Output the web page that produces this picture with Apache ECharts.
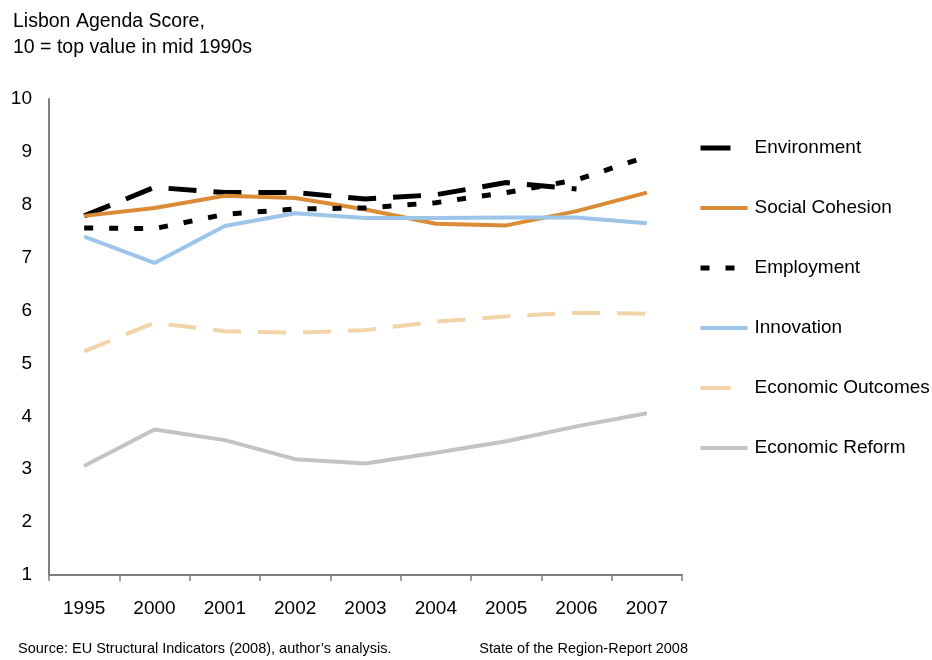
<!DOCTYPE html>
<html>
<head>
<meta charset="utf-8">
<script src="https://cdn.jsdelivr.net/npm/echarts@6/dist/echarts.min.js"></script>
<style>
html,body{margin:0;padding:0;background:#fff;}
#chart{width:932px;height:660px;}
</style>
</head>
<body>
<div id="chart"></div>
<script>
const categories = ['1995','2000','2001','2002','2003','2004','2005','2006','2007'];
const environment = [7.79, 8.33, 8.23, 8.23, 8.11, 8.19, 8.42, 8.30, null];
const socialCohesion = [7.79, 7.94, 8.17, 8.13, 7.91, 7.64, 7.61, 7.88, 8.23];
const employment = [7.56, 7.55, 7.82, 7.92, 7.94, 8.04, 8.23, 8.47, 8.91];
const innovation = [7.40, 6.90, 7.60, 7.84, 7.75, 7.75, 7.76, 7.76, 7.65];
const economicOutcomes = [5.23, 5.77, 5.61, 5.58, 5.63, 5.79, 5.89, 5.96, 5.94];
const economicReform = [3.06, 3.75, 3.55, 3.19, 3.11, 3.31, 3.53, 3.81, 4.06];
const yTicks = [1,2,3,4,5,6,7,8,9,10];

const FONT = '"Liberation Sans", Arial, sans-serif';
const chart = echarts.init(document.getElementById('chart'), null, {renderer:'canvas'});

const C_ENV = '#000000', C_SOC = '#DB8A35', C_EMP = '#000000', C_INN = '#9DC5EA', C_OUT = '#F3D3A8', C_REF = '#C3C3C3';

function mk(name, data, color, width, type) {
  return {
    name, type: 'line', data, symbol: 'none', smooth: false,
    connectNulls: false,
    lineStyle: {color, width, type, cap: 'butt'},
    itemStyle: {color},
    emphasis: {disabled: true},
    animation: false
  };
}

chart.setOption({
  backgroundColor: '#ffffff',
  animation: false,
  title: {
    text: 'Lisbon Agenda Score,\n10 = top value in mid 1990s',
    left: 8, top: 4,
    textStyle: {fontFamily: FONT, fontSize: 19.5, fontWeight: 'normal', color: '#000', lineHeight: 26}
  },
  grid: {left: 49, right: 250, top: 99, bottom: 85, containLabel: false},
  xAxis: {
    type: 'category', data: categories, boundaryGap: true,
    axisLine: {lineStyle: {color: '#7f7f7f', width: 2}},
    axisTick: {show: true, length: 6, lineStyle: {color: '#7f7f7f', width: 1.5}},
    axisLabel: {fontFamily: FONT, fontSize: 19, color: '#000', margin: 24},
    splitLine: {show: false}
  },
  yAxis: {
    type: 'value', min: yTicks[0], max: yTicks[yTicks.length-1], interval: 1,
    axisLine: {show: true, lineStyle: {color: '#7f7f7f', width: 2}},
    axisTick: {show: false},
    axisLabel: {fontFamily: FONT, fontSize: 19, color: '#000', margin: 17},
    splitLine: {show: false}
  },
  legend: {
    orient: 'vertical', left: 698, top: 138,
    itemWidth: 47, itemHeight: 20, itemGap: 40, padding: 0,
    itemStyle: {opacity: 0},
    textStyle: {fontFamily: FONT, fontSize: 19, color: '#000', height: 20, lineHeight: 20, padding: [0,0,0,2]},
    selectedMode: false,
    data: [
      {name: 'Environment', lineStyle: {color: C_ENV, width: 5, type: [30, 30]}},
      {name: 'Social Cohesion', lineStyle: {color: C_SOC, width: 4, type: 'solid'}},
      {name: 'Employment', lineStyle: {color: C_EMP, width: 5, type: [9, 16]}},
      {name: 'Innovation', lineStyle: {color: C_INN, width: 4, type: 'solid'}},
      {name: 'Economic Outcomes', lineStyle: {color: C_OUT, width: 4, type: [30, 30]}},
      {name: 'Economic Reform', lineStyle: {color: C_REF, width: 4, type: 'solid'}}
    ]
  },
  graphic: [
    {type: 'text', left: 18, top: 641, style: {text: 'Source: EU Structural Indicators (2008), author\u2019s analysis.', fontFamily: FONT, fontSize: 14.5, fill: '#000'}},
    {type: 'text', right: 244, top: 641, style: {text: 'State of the Region-Report 2008', fontFamily: FONT, fontSize: 14.5, fill: '#000'}}
  ],
  series: [
    mk('Environment', environment, C_ENV, 5, [28, 17]),
    mk('Social Cohesion', socialCohesion, C_SOC, 4, 'solid'),
    mk('Employment', employment, C_EMP, 5, [9, 16]),
    mk('Innovation', innovation, C_INN, 4, 'solid'),
    mk('Economic Outcomes', economicOutcomes, C_OUT, 4, [28, 17]),
    mk('Economic Reform', economicReform, C_REF, 4, 'solid')
  ]
});
</script>
</body>
</html>
